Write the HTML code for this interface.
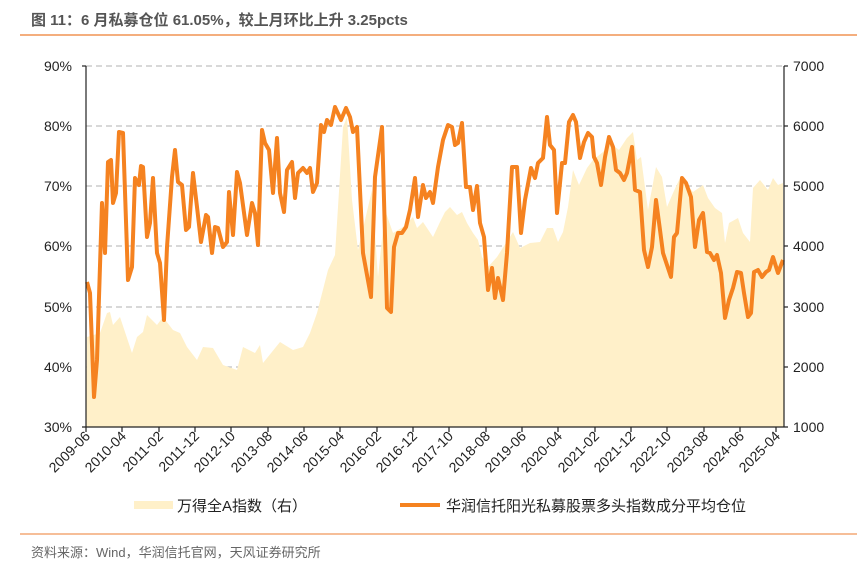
<!DOCTYPE html>
<html><head><meta charset="utf-8"><style>
html,body{margin:0;padding:0;background:#fff;width:857px;height:567px;overflow:hidden}
svg{display:block;font-family:"Liberation Sans","Noto Sans CJK SC",sans-serif}
</style></head><body>
<svg width="857" height="567" viewBox="0 0 857 567">
<text x="31" y="25" font-size="15" font-weight="bold" fill="#555">图 11：6 月私募仓位 61.05%，较上月环比上升 3.25pcts</text>
<line x1="20" y1="35" x2="857" y2="35" stroke="#ED7D31" stroke-width="1.2"/>
<g stroke="#c0c0c0" stroke-dasharray="6,4" stroke-width="1.2">
<line x1="86" y1="66" x2="784" y2="66"/><line x1="86" y1="126" x2="784" y2="126"/><line x1="86" y1="186" x2="784" y2="186"/><line x1="86" y1="246" x2="784" y2="246"/><line x1="86" y1="307" x2="784" y2="307"/><line x1="86" y1="367" x2="784" y2="367"/>
</g>
<polygon fill="#FFF0C9" points="86,427 87,337 100,333 107,313 110,312 113,325 120,317 132,353 137,337 143,332 147,315 157,325 163,317 173,330 180,333 187,347 197,360 203,347 213,348 223,365 237,370 243,347 255,353 260,345 263,363 280,342 293,350 303,347 310,333 317,313 328,270 335,255 343,127 347,117 352,200 358,250 365,220 372,190 378,277 385,210 393,233 403,227 413,217 417,228 423,222 433,237 440,222 445,212 450,207 457,215 462,212 467,223 473,233 478,240 482,257 488,267 497,257 513,232 520,248 530,243 540,242 547,228 553,228 558,242 563,232 568,207 573,170 579,185 587,168 593,160 603,152 610,143 619,150 627,138 633,132 637,160 641,157 648,210 656,167 662,177 667,207 673,193 680,178 693,192 703,185 708,198 715,208 722,213 725,243 729,223 738,218 743,233 750,242 753,188 760,180 768,190 773,178 778,185 783,183 784,427"/>
<polyline fill="none" stroke="#F58220" stroke-width="4" stroke-linejoin="round" points="87,282 90,293 94,397 97,360 102,203 105,253 108,162 111,160 113,203 116,193 119,132 123,133 128,280 132,267 135,178 139,185 141,166 143,167 147,237 150,223 153,178 157,253 160,263 164,320 167,247 172,177 175,150 178,182 182,185 186,230 189,227 193,173 197,207 201,242 206,215 208,217 212,253 215,227 218,228 223,247 227,242 229,192 233,235 237,172 240,183 247,235 252,203 255,213 258,245 262,130 265,143 269,150 273,193 277,138 280,193 284,212 287,170 292,162 295,198 298,173 303,168 307,173 310,168 313,192 317,183 321,125 324,132 327,120 331,125 335,107 341,120 346,108 350,117 353,132 357,127 363,253 371,297 375,177 382,127 387,308 391,312 394,247 398,233 402,233 406,227 410,210 415,178 418,217 423,185 426,198 430,192 433,203 438,167 443,140 448,125 452,127 455,145 458,143 462,123 466,187 470,187 473,210 477,186 480,223 484,237 488,290 492,268 495,298 498,278 503,300 507,253 512,167 517,167 521,233 525,200 531,168 535,178 538,163 543,158 547,117 550,145 554,150 557,213 562,163 565,163 569,122 573,115 576,122 580,158 584,142 588,133 592,137 594,157 597,163 601,185 605,157 609,137 613,147 616,170 620,173 624,180 627,173 632,147 635,190 640,192 644,250 648,267 652,247 656,200 660,230 663,253 667,265 671,277 674,237 677,233 682,178 686,183 691,197 695,247 699,220 703,213 707,252 710,253 714,260 717,255 721,273 725,318 729,300 733,288 737,272 741,273 744,293 748,317 751,313 754,272 758,270 762,277 766,272 769,270 773,257 778,273 783,260"/>
<g stroke="#222" stroke-width="1.2" fill="none">
<line x1="86" y1="66" x2="86" y2="427"/><line x1="784" y1="66" x2="784" y2="427"/><line x1="82" y1="427" x2="788" y2="427"/>
<line x1="82" y1="66" x2="86" y2="66"/><line x1="784" y1="66" x2="788" y2="66"/><line x1="784" y1="126" x2="788" y2="126"/><line x1="784" y1="186" x2="788" y2="186"/><line x1="784" y1="246" x2="788" y2="246"/><line x1="784" y1="307" x2="788" y2="307"/><line x1="784" y1="367" x2="788" y2="367"/>
</g>
<g font-size="14" fill="#222" text-anchor="end">
<text x="72" y="71">90%</text><text x="72" y="131">80%</text><text x="72" y="191">70%</text><text x="72" y="251">60%</text><text x="72" y="312">50%</text><text x="72" y="372">40%</text><text x="72" y="432">30%</text>
</g>
<g font-size="14" fill="#222">
<text x="793" y="71">7000</text><text x="793" y="131">6000</text><text x="793" y="191">5000</text><text x="793" y="251">4000</text><text x="793" y="312">3000</text><text x="793" y="372">2000</text><text x="793" y="432">1000</text>
</g>
<g id="xt" stroke="#222" stroke-width="1.2"></g>
<g font-size="14" fill="#222" text-anchor="end">
<text transform="translate(91,437) rotate(-45)">2009-06</text>
<text transform="translate(127,437) rotate(-45)">2010-04</text>
<text transform="translate(164,437) rotate(-45)">2011-02</text>
<text transform="translate(200,437) rotate(-45)">2011-12</text>
<text transform="translate(236,437) rotate(-45)">2012-10</text>
<text transform="translate(273,437) rotate(-45)">2013-08</text>
<text transform="translate(309,437) rotate(-45)">2014-06</text>
<text transform="translate(345,437) rotate(-45)">2015-04</text>
<text transform="translate(382,437) rotate(-45)">2016-02</text>
<text transform="translate(418,437) rotate(-45)">2016-12</text>
<text transform="translate(454,437) rotate(-45)">2017-10</text>
<text transform="translate(491,437) rotate(-45)">2018-08</text>
<text transform="translate(527,437) rotate(-45)">2019-06</text>
<text transform="translate(563,437) rotate(-45)">2020-04</text>
<text transform="translate(600,437) rotate(-45)">2021-02</text>
<text transform="translate(636,437) rotate(-45)">2021-12</text>
<text transform="translate(672,437) rotate(-45)">2022-10</text>
<text transform="translate(709,437) rotate(-45)">2023-08</text>
<text transform="translate(745,437) rotate(-45)">2024-06</text>
<text transform="translate(781,437) rotate(-45)">2025-04</text>
</g>
<g stroke="#222" stroke-width="1.2">
<line x1="86" y1="427" x2="86" y2="432"/><line x1="122" y1="427" x2="122" y2="432"/><line x1="159" y1="427" x2="159" y2="432"/><line x1="195" y1="427" x2="195" y2="432"/><line x1="231" y1="427" x2="231" y2="432"/><line x1="268" y1="427" x2="268" y2="432"/><line x1="304" y1="427" x2="304" y2="432"/><line x1="340" y1="427" x2="340" y2="432"/><line x1="377" y1="427" x2="377" y2="432"/><line x1="413" y1="427" x2="413" y2="432"/><line x1="449" y1="427" x2="449" y2="432"/><line x1="486" y1="427" x2="486" y2="432"/><line x1="522" y1="427" x2="522" y2="432"/><line x1="558" y1="427" x2="558" y2="432"/><line x1="595" y1="427" x2="595" y2="432"/><line x1="631" y1="427" x2="631" y2="432"/><line x1="667" y1="427" x2="667" y2="432"/><line x1="704" y1="427" x2="704" y2="432"/><line x1="740" y1="427" x2="740" y2="432"/><line x1="776" y1="427" x2="776" y2="432"/>
</g>
<rect x="134" y="501" width="39" height="8" fill="#FFF0C9"/>
<text x="177" y="511" font-size="15" fill="#222">万得全A指数（右）</text>
<line x1="400" y1="505" x2="440" y2="505" stroke="#F58220" stroke-width="4"/>
<text x="446" y="511" font-size="15" fill="#222">华润信托阳光私募股票多头指数成分平均仓位</text>
<line x1="20" y1="534" x2="857" y2="534" stroke="#ED7D31" stroke-width="1"/>
<text x="31" y="557" font-size="13" fill="#666">资料来源：Wind，华润信托官网，天风证券研究所</text>
</svg>
</body></html>
